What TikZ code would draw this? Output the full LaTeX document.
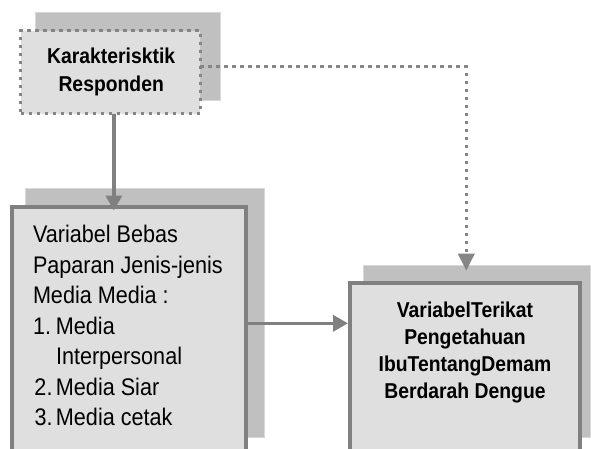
\documentclass[tikz,border=0pt]{standalone}
\usepackage{fontspec}
\setmainfont{Liberation Sans}
\newfontfamily\condfont[FakeStretch=0.9]{Liberation Sans}
\usetikzlibrary{arrows.meta,calc}
\definecolor{boxfill}{HTML}{DFDFDF}
\definecolor{shadowfill}{HTML}{C0C0C0}
\definecolor{shadowedge}{HTML}{D8D8D8}
\definecolor{lineg}{HTML}{808080}
\definecolor{dotg}{HTML}{858585}
\begin{document}
\begin{tikzpicture}[x=1pt,y=-1pt,
 shadowbox/.style={draw=shadowedge, line width=1pt, fill=shadowfill, inner sep=0pt, outer sep=0pt, anchor=north west},
 mainbox/.style={draw=lineg, line width=4pt, fill=boxfill, inner sep=0pt, outer sep=0pt, anchor=north west},
 dotbox/.style={draw=dotg, line width=3.3pt, dash pattern=on 3.3pt off 4.7pt, fill=boxfill, inner sep=0pt, outer sep=0pt, anchor=north west},
 txt/.style={inner sep=0pt, outer sep=0pt},
 solidarrow/.style={draw=lineg, line width=3.5pt, -{Triangle[length=15pt,width=16pt]}},
 dotarrow/.style={draw=dotg, line width=3.3pt, dash pattern=on 3.3pt off 4.7pt, -{Triangle[length=17pt,width=16pt]}},
]
\useasboundingbox (0,0) rectangle (591,448);
\clip (0,0) rectangle (591,448);
\fill[white] (0,0) rectangle (591,448);
% shadows
\node[shadowbox, minimum width=185pt, minimum height=88pt] (topshadow) at (35,12) {};
\node[shadowbox, minimum width=239pt, minimum height=249pt] (leftshadow) at (25,188) {};
\node[shadowbox, minimum width=227pt, minimum height=172pt] (rightshadow) at (363,265) {};
% boxes
\node[dotbox, minimum width=179.7pt, minimum height=82.7pt] (topbox) at (20.5,30.8) {};
\node[mainbox, minimum width=234pt, minimum height=263pt] (leftbox) at (12,207) {};
\node[mainbox, minimum width=230pt, minimum height=200pt] (rightbox) at (350,283) {};
% texts
\node[txt, anchor=base] (toptext) at (111.2,63.3) {\parbox[t]{170pt}{\centering\condfont\bfseries\fontsize{21.5}{28.4}\selectfont Karakterisktik\\Responden}};
\node[txt, anchor=base west] (lefttext) at (33,242.7) {\parbox[t]{210pt}{\raggedright\condfont\fontsize{24}{30.5}\selectfont
Variabel Bebas\\
Paparan Jenis-jenis\\
Media Media :\\
\makebox[23pt][l]{1.}Media\\
\hspace*{23pt}Interpersonal\\
\hspace*{1.5pt}\makebox[21.5pt][l]{2.}Media Siar\\
\hspace*{1.5pt}\makebox[21.5pt][l]{3.}Media cetak}};
\node[txt, anchor=base] (righttext) at (465,317.3) {\parbox[t]{225pt}{\centering\condfont\bfseries\fontsize{21.5}{27}\selectfont VariabelTerikat\\Pengetahuan\\IbuTentangDemam\\Berdarah Dengue}};
% connectors
\coordinate (hlevel) at (0,323.3);
\draw[solidarrow, shorten >=-3.5pt] ([xshift=3.5pt]topbox.south) -- ([xshift=3.5pt]topbox.south |- leftbox.north);
\draw[solidarrow, shorten >=2pt] (leftbox.east |- hlevel) -- (rightbox.west |- hlevel);
\draw[dotarrow, shorten >=12.3pt] ([yshift=5.5pt]topbox.east) -| ([xshift=1.3pt]rightbox.north);
\end{tikzpicture}
\end{document}
